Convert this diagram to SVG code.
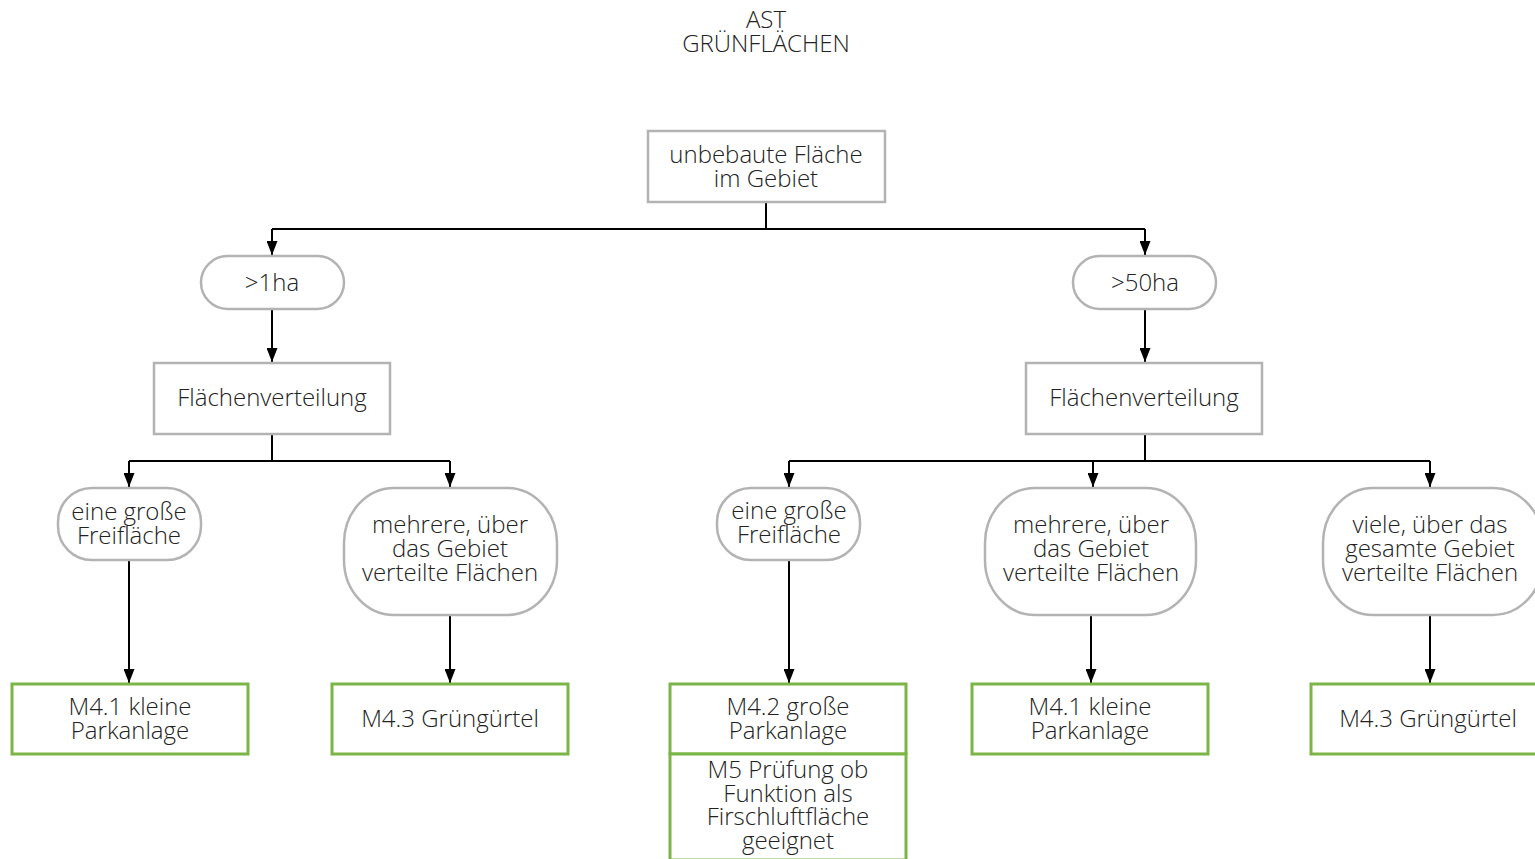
<svg xmlns="http://www.w3.org/2000/svg" width="1535" height="859" viewBox="0 0 1535 859">
<style>
text{font-family:"Open Sans","Lato","Noto Sans",sans-serif;font-weight:300;font-size:24px;fill:#222;text-anchor:middle}
.g{fill:#fff;stroke:#b3b3b3;stroke-width:2.5}
.m{fill:#fff;stroke:#7cb547;stroke-width:3}
.c{fill:none;stroke:#000;stroke-width:2}
</style>
<defs>
<marker id="a" markerWidth="14" markerHeight="11" refX="14" refY="5.5" orient="auto" markerUnits="userSpaceOnUse" viewBox="0 0 14 11">
<path d="M0 0 L14 5.5 L0 11 Z" fill="#000"/>
</marker>
</defs>
<rect width="1535" height="859" fill="#fff"/>
<g id="title">
<text x="766" y="28" font-size="22">AST<tspan x="766" dy="24">GRÜNFLÄCHEN</tspan></text>
</g>
<g id="connectors">
<path class="c" d="M766 202 V229 M272 229 H1145"/>
<path class="c" d="M272 229 V255" marker-end="url(#a)"/>
<path class="c" d="M1145 229 V255" marker-end="url(#a)"/>
<path class="c" d="M272 309 V362" marker-end="url(#a)"/>
<path class="c" d="M1145 309 V362" marker-end="url(#a)"/>
<path class="c" d="M272 434 V461 M129 461 H450"/>
<path class="c" d="M129 461 V487" marker-end="url(#a)"/>
<path class="c" d="M450 461 V487" marker-end="url(#a)"/>
<path class="c" d="M1145 434 V461 M789 461 H1430"/>
<path class="c" d="M789 461 V487" marker-end="url(#a)"/>
<path class="c" d="M1093 461 V487" marker-end="url(#a)"/>
<path class="c" d="M1430 461 V487" marker-end="url(#a)"/>
<path class="c" d="M129 560 V683" marker-end="url(#a)"/>
<path class="c" d="M450 615 V683" marker-end="url(#a)"/>
<path class="c" d="M789 560 V683" marker-end="url(#a)"/>
<path class="c" d="M1091 615 V683" marker-end="url(#a)"/>
<path class="c" d="M1430 615 V683" marker-end="url(#a)"/>
</g>
<g id="n_root">
<rect class="g" x="648" y="131" width="237" height="71"/>
<text x="766" y="163" font-size="25">unbebaute Fläche<tspan x="766" dy="24">im Gebiet</tspan></text>
</g>
<g id="n_1ha">
<rect class="g" x="201" y="256" width="143" height="53" rx="26.5"/>
<text x="272" y="291">&gt;1ha</text>
</g>
<g id="n_50ha">
<rect class="g" x="1073" y="256" width="143" height="53" rx="26.5"/>
<text x="1145" y="291">&gt;50ha</text>
</g>
<g id="n_fv_l">
<rect class="g" x="154" y="363" width="236" height="71"/>
<text x="272" y="406">Flächenverteilung</text>
</g>
<g id="n_fv_r">
<rect class="g" x="1026" y="363" width="236" height="71"/>
<text x="1144" y="406">Flächenverteilung</text>
</g>
<g id="n_gross_l">
<rect class="g" x="58" y="488" width="143" height="72" rx="34"/>
<text x="129" y="520">eine große<tspan x="129" dy="24">Freifläche</tspan></text>
</g>
<g id="n_mehrere_l">
<rect class="g" x="344" y="488" width="213" height="127" rx="50" ry="55"/>
<text x="450" y="533">mehrere, über<tspan x="450" dy="24">das Gebiet</tspan><tspan x="450" dy="24">verteilte Flächen</tspan></text>
</g>
<g id="n_gross_r">
<rect class="g" x="717" y="488" width="143" height="72" rx="34"/>
<text x="789" y="519">eine große<tspan x="789" dy="24">Freifläche</tspan></text>
</g>
<g id="n_mehrere_r">
<rect class="g" x="985" y="488" width="211" height="127" rx="50" ry="55"/>
<text x="1091" y="533">mehrere, über<tspan x="1091" dy="24">das Gebiet</tspan><tspan x="1091" dy="24">verteilte Flächen</tspan></text>
</g>
<g id="n_viele">
<rect class="g" x="1323" y="488" width="220" height="127" rx="50" ry="55"/>
<text x="1430" y="533">viele, über das<tspan x="1430" dy="24">gesamte Gebiet</tspan><tspan x="1430" dy="24">verteilte Flächen</tspan></text>
</g>
<g id="m41_l">
<rect class="m" x="12" y="684" width="236" height="70"/>
<text x="130" y="715">M4.1 kleine<tspan x="130" dy="24">Parkanlage</tspan></text>
</g>
<g id="m43_l">
<rect class="m" x="332" y="684" width="236" height="70"/>
<text x="450" y="727">M4.3 Grüngürtel</text>
</g>
<g id="m42">
<rect class="m" x="670" y="684" width="236" height="70"/>
<text x="788" y="715">M4.2 große<tspan x="788" dy="24">Parkanlage</tspan></text>
</g>
<g id="m5">
<rect class="m" x="670" y="754" width="236" height="106"/>
<text x="788" y="778">M5 Prüfung ob<tspan x="788" dy="23.5">Funktion als</tspan><tspan x="788" dy="23.5">Firschluftfläche</tspan><tspan x="788" dy="23.5">geeignet</tspan></text>
</g>
<g id="m41_r">
<rect class="m" x="972" y="684" width="236" height="70"/>
<text x="1090" y="715">M4.1 kleine<tspan x="1090" dy="24">Parkanlage</tspan></text>
</g>
<g id="m43_r">
<rect class="m" x="1311" y="684" width="236" height="70"/>
<text x="1428" y="727">M4.3 Grüngürtel</text>
</g>
</svg>
